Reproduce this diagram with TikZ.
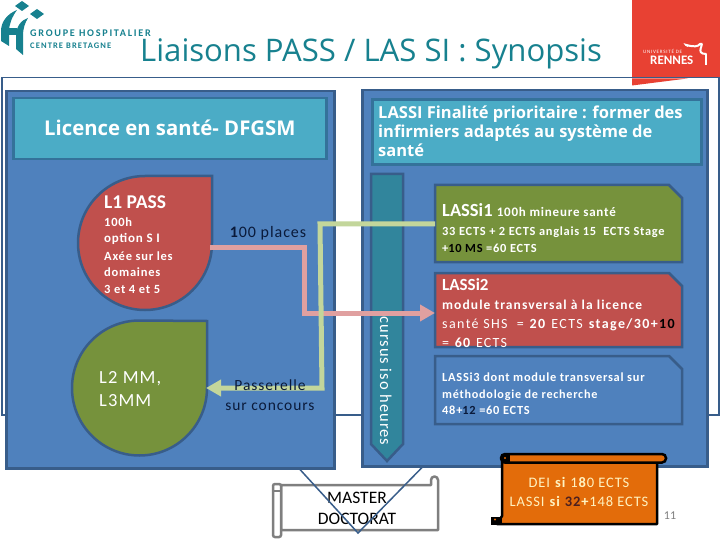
\documentclass[tikz,border=0pt]{standalone}
\usepackage{fontspec}
\setmainfont{Carlito}
\newfontfamily\titlef{Open Sans}
\newfontfamily\headf{Open Sans}
\newfontfamily\spacedf[LetterSpace=6]{Carlito}
\usetikzlibrary{arrows.meta}
\definecolor{panel}{HTML}{4F81BD}
\definecolor{edge}{HTML}{385D8A}
\definecolor{head}{HTML}{4BACC6}
\definecolor{headedge}{HTML}{34729A}
\definecolor{redf}{HTML}{C0504D}
\definecolor{greenf}{HTML}{76923C}
\definecolor{orangef}{HTML}{E36C0A}
\definecolor{pinkl}{HTML}{E0A0A0}
\definecolor{greenl}{HTML}{C3D69B}
\definecolor{cursus}{HTML}{31859C}
\definecolor{titlec}{HTML}{17818F}
\definecolor{rennes}{HTML}{E84133}
\definecolor{grayl}{HTML}{7F7F7F}
\definecolor{navyt}{HTML}{0A1A3A}
\definecolor{softy}{HTML}{FFF2C0}
\tikzset{
 x=1pt,y=1pt,
 shapeline/.style={draw=edge,line width=2.5pt},
 panelbox/.style={shapeline,fill=panel,rectangle,anchor=north west,inner sep=0pt},
 headbox/.style={draw=headedge,line width=2.5pt,fill=head,rectangle,anchor=north west,inner sep=0pt},
 snipanchor/.style={rectangle,anchor=north west,inner sep=0pt,outer sep=0pt},
 txt/.style={anchor=base west,inner sep=0pt,text=white},
 ctxt/.style={anchor=base,inner sep=0pt},
 pinkarrow/.style={draw=pinkl,line width=5pt,-{Triangle[width=16pt,length=15pt]}},
 greenarrow/.style={draw=greenl,line width=5pt,-{Triangle[width=16pt,length=15pt]}},
}
\newcommand{\snipfill}[2]{\draw[shapeline,fill=#2,line join=miter] (#1.north west) -- ([xshift=-13pt]#1.north east) -- ([yshift=-13pt]#1.north east) -- (#1.south east) -- (#1.south west) -- cycle;}
\begin{document}
\begin{tikzpicture}
\useasboundingbox (0,0) rectangle (720,-540);
\fill[white] (0,0) rectangle (720,-540);
% red university tab
\fill[rennes] (632,0) -- (720,0) -- (720,-77) -- (632,-86) -- cycle;
% outer frame
\draw[edge,line width=1.8pt,fill=white] (2,-77.5) rectangle (719,-415);
\fill[rennes] (632,-78.4) -- (688,-78.4) -- (632,-85.5) -- cycle;
\coordinate (vtip) at (358,-533);
% panels
\node[panelbox,minimum width=328pt,minimum height=377pt] (leftp) at (5,-90) {};
\node[panelbox,minimum width=345pt,minimum height=376pt] (rightp) at (361,-89) {};
% headers
\node[headbox,minimum width=313pt,minimum height=61pt] (lefth) at (12,-97) {};
\node[headbox,minimum width=329pt,minimum height=65pt] (righth) at (371,-98.5) {};
\node[txt,font=\headf\bfseries\fontsize{20.3}{20}\selectfont] (lefttxt) at (44,-135.5) {Licence en santé- DFGSM};
\node[txt,font=\headf\bfseries\fontsize{16.5}{20}\selectfont] (rt1) at (378,-119) {LASSI Finalité prioritaire : former des};
\node[txt,font=\headf\bfseries\fontsize{16.5}{20}\selectfont] (rt2) at (378,-138) {infirmiers adaptés au système de};
\node[txt,font=\headf\bfseries\fontsize{16.5}{20}\selectfont] (rt3) at (378,-157) {santé};
% teardrops
\draw[shapeline,fill=redf] (212,-176) -- (212,-243) arc[start angle=0,end angle=-270,radius=67] -- cycle;
\draw[shapeline,fill=greenf] (207,-321) -- (207,-388) arc[start angle=0,end angle=-270,radius=67.5] -- cycle;
\coordinate (l1out) at (210,-247);
\coordinate (l2in) at (206,-388);
\node[txt,font=\fontsize{19.5}{20}\selectfont\bfseries] (l1a) at (104,-208) {L1 PASS};
\node[txt,font=\spacedf\fontsize{12.5}{14}\selectfont\bfseries] (l1b) at (104,-226) {100h};
\node[txt,font=\spacedf\fontsize{13}{14}\selectfont\bfseries] (l1c) at (104,-243) {option S I};
\node[txt,font=\spacedf\fontsize{12.5}{14}\selectfont\bfseries] (l1d) at (104,-260) {Axée sur les};
\node[txt,font=\spacedf\fontsize{12.5}{14}\selectfont\bfseries] (l1e) at (104,-276) {domaines};
\node[txt,font=\spacedf\fontsize{12.5}{14}\selectfont\bfseries] (l1f) at (104,-293) {3 et 4 et 5};
\node[txt,font=\spacedf\fontsize{18.5}{20}\selectfont] (l2a) at (99,-383) {L2 MM,};
\node[txt,font=\spacedf\fontsize{18.5}{20}\selectfont] (l2b) at (99,-406) {L3MM};
% cursus arrow
\draw[shapeline,fill=cursus] (371,-174) -- (403,-174) -- (403,-444) -- (387,-461) -- (371,-444) -- cycle;
\node[anchor=base,rotate=-90,inner sep=0pt,text=white,font=\spacedf\fontsize{16.5}{18}\selectfont] (cur) at (380,-381) {cursus iso heures};
% program boxes
\node[snipanchor,minimum width=247pt,minimum height=77pt] (lassia) at (435,-185) {};
\node[snipanchor,minimum width=247pt,minimum height=74pt] (lassib) at (435,-273) {};
\node[snipanchor,minimum width=247pt,minimum height=68pt] (lassic) at (435,-356) {};
\snipfill{lassia}{greenf}
\snipfill{lassib}{redf}
\snipfill{lassic}{panel}
\node[txt,font=\fontsize{18.5}{20}\selectfont\bfseries] (a1) at (442,-217) {LASSi1 \spacedf\fontsize{13}{14}\selectfont 100h mineure santé};
\node[txt,font=\spacedf\fontsize{12.4}{14}\selectfont\bfseries] (a2) at (442,-236) {33 ECTS + 2 ECTS anglais 15\ \ ECTS Stage};
\node[txt,font=\spacedf\fontsize{12.4}{14}\selectfont\bfseries] (a3) at (442,-252) {+\textcolor{black}{10 MS} =60 ECTS};
\node[txt,font=\fontsize{17}{20}\selectfont\bfseries] (b1) at (442,-290) {LASSi2};
\node[txt,font=\spacedf\fontsize{13.5}{14}\selectfont\addfontfeature{LetterSpace=8}\bfseries] (b2) at (442,-309) {module transversal à la licence};
\node[txt,font=\spacedf\fontsize{14}{14}\selectfont\addfontfeature{LetterSpace=10}] (b3) at (442,-328) {santé SHS\ \ = \textbf{20} ECTS \textbf{stage/30+}\textcolor{black}{\textbf{10}}};
\node[txt,font=\spacedf\fontsize{14}{14}\selectfont\addfontfeature{LetterSpace=9}] (b4) at (442,-347) {= \textbf{60} ECTS};
\node[txt,font=\spacedf\fontsize{12.4}{14}\selectfont\bfseries] (c1) at (442,-381) {LASSi3 dont module transversal sur};
\node[txt,font=\spacedf\fontsize{12.2}{14}\selectfont\bfseries] (c2) at (442,-398) {méthodologie de recherche};
\node[txt,font=\spacedf\fontsize{12.4}{14}\selectfont\bfseries] (c3) at (442,-414) {48+\textcolor{navyt}{12} =60 ECTS};
% connectors
\draw[pinkarrow] (l1out) -- (304,-247) -- (304,-313) -- (lassib.west |- 0,-313);
\draw[greenarrow] (lassia.west |- 0,-224) -- (320,-224) -- (322,-388) -- (l2in);
% labels on connectors
\node[ctxt,text=navyt,font=\spacedf\fontsize{16}{16}\selectfont] (pl) at (268,-237) {\textbf{1}00 places};
\node[ctxt,text=navyt,font=\spacedf\fontsize{15.5}{16}\selectfont] (pa) at (270,-390) {Passerelle};
\node[ctxt,text=navyt,font=\spacedf\fontsize{15.5}{16}\selectfont] (pb) at (270,-410) {sur concours};
% gray scroll
\draw[grayl,line width=2.5pt,fill=white,line join=round] (281,-485) -- (431,-485) -- (431,-480) arc[start angle=180,end angle=0,radius=3.5] -- (438,-530) -- (281,-530) -- cycle;
\draw[grayl,line width=2.5pt,fill=white,rounded corners=2pt] (273,-484) rectangle (281,-537);
\draw[grayl,line width=2.5pt] (274,-491) -- (280,-491);
\node[ctxt,text=black,font=\fontsize{17.5}{16}\selectfont] (ma) at (357,-503) {MASTER};
\node[ctxt,text=black,font=\fontsize{17.5}{16}\selectfont] (mb) at (357,-524) {DOCTORAT};
% V lines over scroll
\draw[edge,line width=1.5pt] (leftp.south -| 300,0) -- (vtip) -- (rightp.south -| 422,0);
% orange scroll
\draw[black,line width=2.5pt,fill=orangef,line join=round] (502,-462) -- (657,-462) -- (657,-524) -- (497,-524) -- (502,-516) -- cycle;
\draw[black,line width=2.5pt,fill=orangef,rounded corners=4pt] (501,-454) rectangle (666,-462.5);
\fill[black] (491,-517) rectangle (502,-525);
\fill[orangef] (495,-519.5) circle[radius=1.2];
\fill[black] (501,-454) rectangle (510,-462.5);
\fill[orangef] (505,-458) circle[radius=1.2];
\node[ctxt,text=softy,font=\spacedf\fontsize{14.5}{16}\selectfont] (oa) at (579,-487) {DEI \textbf{si} 1\textbf{8}0 ECTS};
\node[ctxt,text=softy,font=\spacedf\fontsize{14.5}{16}\selectfont] (ob) at (579,-506) {LASSI \textbf{si} \textcolor{black!60!redf}{\textbf{32}}\textbf{+}148 ECTS};
\node[ctxt,text=gray,font=\fontsize{12}{12}\selectfont] (pg) at (670,-519) {11};
% title
\node[txt,text=titlec,font=\titlef\fontsize{31.1}{32}\selectfont] (title) at (140,-62) {Liaisons PASS / LAS SI : Synopsis};
% left logo
\fill[titlec] (22,-1) -- (29,-6) -- (22,-11) -- (15,-6) -- cycle;
\fill[titlec] (37,-9) -- (44,-14) -- (37,-19) -- (30,-14) -- cycle;
\fill[titlec] (17,-10) .. controls (7,-14) and (1,-22) .. (1,-31) -- (1,-41) -- (9,-46) -- (9,-32) .. controls (9,-24) and (12,-17) .. (17,-10) -- cycle;
\fill[titlec] (28,-18) .. controls (21,-20) and (16,-27) .. (16,-36) -- (16,-49) -- (23,-55) -- (23,-36) .. controls (23,-28) and (25,-23) .. (28,-18) -- cycle;
\fill[titlec] (8,-28) -- (17,-28) -- (17,-35) -- (8,-35) -- cycle;
\node[txt,text=titlec,font=\fontsize{10.2}{10}\selectfont\bfseries\addfontfeature{LetterSpace=17}] (gh) at (30,-37) {GROUPE HOSPITALIER};
\node[txt,text=titlec,font=\fontsize{8.5}{9}\selectfont\bfseries\addfontfeature{LetterSpace=13}] (cb) at (30,-49) {CENTRE BRETAGNE};
% right logo
\node[txt,font=\fontsize{5}{5}\selectfont\addfontfeature{LetterSpace=15}] (ud) at (643,-53.5) {UNIVERSITÉ DE};
\node[txt,font=\fontsize{13}{14}\selectfont\bfseries] (rn) at (650,-65) {RENNES};
\draw[white,line width=2pt,line cap=round] (688,-46) .. controls (680,-42) and (696,-50) .. (700,-44) .. controls (706,-42) and (694,-54) .. (706,-54);
\draw[white,line width=2.5pt] (706,-54) -- (706,-65);
\end{tikzpicture}
\end{document}
